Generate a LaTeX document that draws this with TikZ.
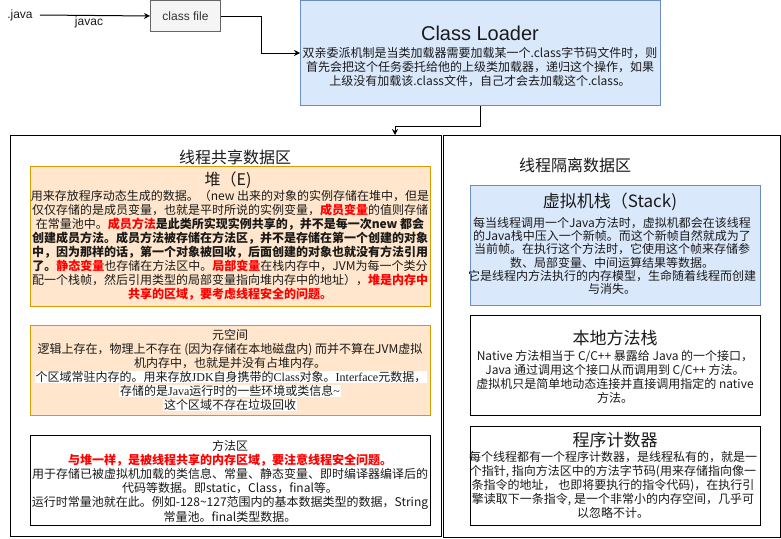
\documentclass[tikz,border=0pt]{standalone}
\usepackage{fontspec}
\setmainfont{Noto Sans CJK SC}
\newfontfamily\arfont{Liberation Sans}
\newfontfamily\serfont{Liberation Serif}
\usetikzlibrary{arrows.meta}
\definecolor{bluefill}{HTML}{DAE8FC}
\definecolor{bluedraw}{HTML}{6C8EBF}
\definecolor{orfill}{HTML}{FFE6CC}
\definecolor{ordraw}{HTML}{D79B00}
\definecolor{grfill}{HTML}{F5F5F5}
\definecolor{grdraw}{HTML}{666666}
\definecolor{txt}{HTML}{1A1A1A}
\newcommand\redb[1]{\textcolor{red}{\bfseries #1}}
\newcommand\ls[1]{{\serfont #1}}
\begin{document}
\begin{tikzpicture}[x=1pt,y=-1pt,
  box/.style={draw, rectangle, inner sep=0pt, anchor=north west, line width=1pt},
  tn/.style={inner sep=0pt, align=center, text=txt},
  body/.style={tn, font=\fontsize{12}{14}\selectfont},
  ttl/.style={tn, font=\fontsize{17}{20}\selectfont},
  conn/.style={draw=black, line width=1pt, -{Stealth[length=6pt,width=6pt]}},
  hlline/.style={tn, fill=white, inner xsep=1pt, inner ysep=0.5pt, font=\fontsize{12}{14}\selectfont}]
\useasboundingbox[fill=white] (0,0) rectangle (781,538);

% top row
\node[tn, font=\arfont\fontsize{12}{14}\selectfont] (java) at (20,15) {.java};
\node[box, fill=grfill, draw=grdraw, minimum width=70pt, minimum height=31pt] (cf) at (150,0) {};
\node[tn, text=black!80, font=\arfont\fontsize{12}{14}\selectfont] (cft) at (cf.center) {class file};
\node[tn, font=\arfont\fontsize{12}{14}\selectfont] (javac) at (89,22) {javac};

% class loader
\node[box, fill=bluefill, draw=bluedraw, minimum width=360pt, minimum height=105pt] (cl) at (300,0) {};
\node[tn, font=\arfont\fontsize{20}{24}\selectfont] (clt) at (480,33) {Class Loader};
\node[body] (clb) at (480,67) {双亲委派机制是当类加载器需要加载某一个.class字节码文件时，则\\首先会把这个任务委托给他的上级类加载器，递归这个操作，如果\\上级没有加载该.class文件，自己才会去加载这个.class。};

% panels
\node[box, minimum width=431pt, minimum height=401pt] (left) at (10,135) {};
\node[box, minimum width=337pt, minimum height=402pt] (right) at (443,135) {};
\node[tn, font=\fontsize{16}{19}\selectfont] (lt) at (235,157) {线程共享数据区};
\node[tn, font=\fontsize{16}{19}\selectfont] (rt) at (575,165) {线程隔离数据区};

% connectors
\draw[conn] ([xshift=7pt]java.east) -- (cf.west);
\draw[conn] (cf.east) -- ++(40,0) |- (cl.west);
\draw[conn] (cl.south) -- ++(0,20) -| ([xshift=385pt]left.north west);

% heap
\node[box, fill=orfill, draw=ordraw, minimum width=400pt, minimum height=140pt] (heap) at (30,166) {};
\node[tn, font=\fontsize{16}{19}\selectfont] (heapt) at (228,180) {堆（E)};
\node[body] (heapb) at (230,245.5) {用来存放程序动态生成的数据。（new 出来的对象的实例存储在堆中，但是\\
仅仅存储的是成员变量，也就是平时所说的实例变量，\redb{成员变量}的值则存储\\
在常量池中。\redb{成员方法}\textbf{是此类所实现实例共享的，并不是每一次new 都会}\\
\textbf{创建成员方法。成员方法被存储在方法区，并不是存储在第一个创建的对象}\\
\textbf{中，因为那样的话，第一个对象被回收，后面创建的对象也就没有方法引用}\\
\textbf{了。}\redb{静态变量}也存储在方法区中。\redb{局部变量}在栈内存中，JVM为每一个类分\\
配一个栈帧，然后引用类型的局部变量指向堆内存中的地址），\redb{堆是内存中}\\
\redb{共享的区域，要考虑线程安全的问题。}};

% metaspace
\node[box, fill=orfill, draw=ordraw, minimum width=400pt, minimum height=90pt] (meta) at (30,325) {};
\node[body] (metab) at (230,349.5) {元空间\\逻辑上存在，物理上不存在 (因为存储在本地磁盘内) 而并不算在JVM虚拟\\机内存中，也就是并没有占堆内存。};
\node[hlline] (meta1) at (231,377) {个区域常驻内存的。用来存放\ls{JDK}自身携带的\ls{Class}对象。\ls{Interface}元数据，};
\node[hlline] (meta2) at (230,391) {存储的是\ls{Java}运行时的一些环境或类信息\ls{\textasciitilde}};
\node[hlline] (meta3) at (230,405) {这个区域不存在垃圾回收};

% method area
\node[box, fill=white, draw=black, minimum width=400pt, minimum height=90pt] (meth) at (30,435) {};
\node[tn, font=\fontsize{12}{14.2}\selectfont] (methb) at (230,481) {方法区\\\redb{与堆一样，是被线程共享的内存区域，要注意线程安全问题。}\\用于存储已被虚拟机加载的类信息、常量、静态变量、即时编译器编译后的\\代码等数据。即static，Class，final等。\\运行时常量池就在此。例如-128\textasciitilde127范围内的基本数据类型的数据，String\\常量池。final类型数据。};

% stack
\node[box, fill=bluefill, draw=bluedraw, minimum width=290pt, minimum height=120pt] (stack) at (470,185) {};
\node[ttl] (stackt) at (610,202) {虚拟机栈（Stack)};
\node[tn, font=\fontsize{12}{13.2}\selectfont] (stackb) at (612,256) {每当线程调用一个Java方法时，虚拟机都会在该线程\\的Java栈中压入一个新帧。而这个新帧自然就成为了\\当前帧。在执行这个方法时，它使用这个帧来存储参\\数、局部变量、中间运算结果等数据。\\它是线程内方法执行的内存模型，生命随着线程而创建\\与消失。};

% native
\node[box, fill=white, draw=black, minimum width=290pt, minimum height=100pt] (nat) at (470,315) {};
\node[ttl] (natt) at (615,338) {本地方法栈};
\node[tn, font=\fontsize{12}{14}\selectfont] (natb) at (615,376.5) {Native 方法相当于 C/C++ 暴露给 Java 的一个接口，\\Java 通过调用这个接口从而调用到 C/C++ 方法。\\虚拟机只是简单地动态连接并直接调用指定的 native\\方法。};

% program counter
\node[box, fill=white, draw=black, minimum width=290pt, minimum height=99pt] (pc) at (470,426) {};
\node[ttl] (pct) at (615,440) {程序计数器};
\node[tn, font=\fontsize{12}{13.8}\selectfont] (pcb) at (613,485) {每个线程都有一个程序计数器，是线程私有的，就是一\\个指针, 指向方法区中的方法字节码(用来存储指向像一\\条指令的地址， 也即将要执行的指令代码)，在执行引\\擎读取下一条指令, 是一个非常小的内存空间，几乎可\\以忽略不计。};
\end{tikzpicture}
\end{document}
